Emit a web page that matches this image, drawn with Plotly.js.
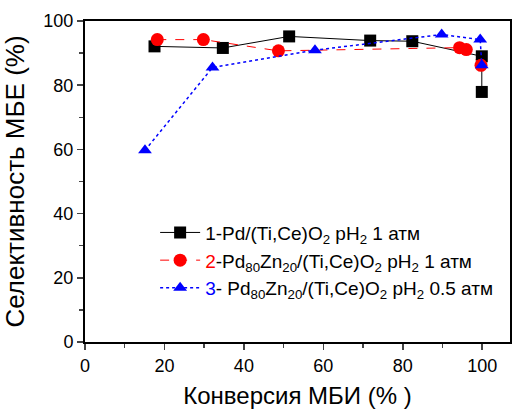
<!DOCTYPE html>
<html><head><meta charset="utf-8">
<script src="https://cdn.plot.ly/plotly-3.0.1.min.js"></script>
<style>body{margin:0;padding:0;background:#fff}#chart{width:513px;height:410px}</style>
</head><body><div id="chart"></div>
<script>
const conv1 = [17.5, 34.7, 51.4, 71.8, 82.4, 99.9, 99.9];
const sel1  = [92.1, 91.6, 95.2, 93.9, 93.7, 89.0, 77.9];
const conv2 = [18.2, 29.8, 48.7, 94.3, 96.0, 99.7];
const sel2  = [94.2, 94.2, 90.7, 91.7, 91.1, 86.2];
const conv3 = [15.1, 32.1, 57.9, 89.8, 99.5, 99.9];
const sel3  = [59.7, 85.5, 90.9, 95.8, 94.2, 86.2];
const names = [
  '1-Pd/(Ti,Ce)O<sub>2</sub> pH<sub>2</sub> 1 атм',
  '<span style="color:red">2</span>-Pd<sub>80</sub>Zn<sub>20</sub>/(Ti,Ce)O<sub>2</sub> pH<sub>2</sub> 1 атм',
  '<span style="color:blue">3</span>- Pd<sub>80</sub>Zn<sub>20</sub>/(Ti,Ce)O<sub>2</sub> pH<sub>2</sub> 0.5 атм'
];
const traces = [
  {x: conv1, y: sel1, name: names[0], mode: 'lines+markers',
   line: {color: 'black', width: 1}, marker: {symbol: 'square', size: 12, color: 'black'}},
  {x: conv2, y: sel2, name: names[1], mode: 'lines+markers',
   line: {color: 'red', width: 1, dash: 'dash'}, marker: {symbol: 'circle', size: 13, color: 'red'}},
  {x: conv3, y: sel3, name: names[2], mode: 'lines+markers',
   line: {color: 'blue', width: 1.5, dash: 'dot'}, marker: {symbol: 'triangle-up', size: 12, color: 'blue'}}
];
const layout = {
  width: 513, height: 410,
  margin: {l: 85, r: 3, t: 21, b: 68, autoexpand: false},
  paper_bgcolor: 'white', plot_bgcolor: 'white',
  font: {family: 'Arial, "Liberation Sans", sans-serif', color: 'black', size: 18},
  showlegend: true,
  legend: {x: 0.165, y: 0.40, xanchor: 'left', yanchor: 'top', bgcolor: 'rgba(0,0,0,0)',
           font: {size: 19}, itemwidth: 40},
  xaxis: {range: [0, 107], dtick: 20, tick0: 0, ticks: 'outside', ticklen: 6, tickwidth: 1.5,
          showline: true, linewidth: 2, linecolor: 'black', mirror: true, showgrid: false, zeroline: false,
          tickfont: {size: 18},
          minor: {dtick: 10, ticks: 'outside', ticklen: 4, tickwidth: 1.5},
          title: {text: 'Конверсия МБИ (% )', font: {size: 24}, standoff: 13}},
  yaxis: {range: [0, 100], dtick: 20, tick0: 0, ticks: 'outside', ticklen: 6, tickwidth: 1.5,
          showline: true, linewidth: 2, linecolor: 'black', mirror: true, showgrid: false, zeroline: false,
          tickfont: {size: 18},
          minor: {dtick: 10, ticks: 'outside', ticklen: 4, tickwidth: 1.5},
          title: {text: 'Селективность МБЕ (%)', font: {size: 26}, standoff: 14}}
};
Plotly.newPlot('chart', traces, layout, {displayModeBar: false, staticPlot: true});
</script></body></html>
